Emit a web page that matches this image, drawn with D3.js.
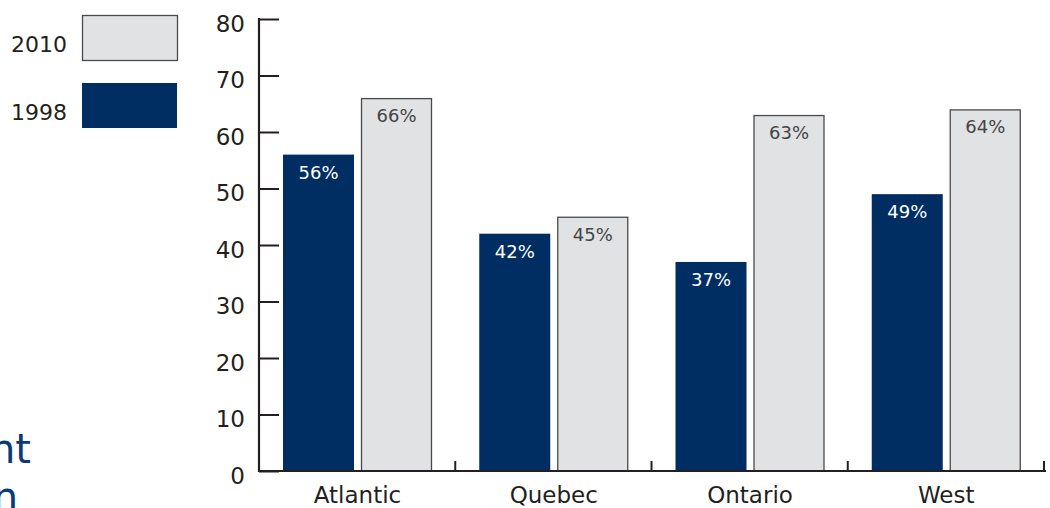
<!DOCTYPE html>
<html>
<head>
<meta charset="utf-8">
<script src="https://cdn.jsdelivr.net/npm/d3@7"></script>
<style>
  body { margin: 0; background: #fff; }
  svg { display: block; font-family: "DejaVu Sans", sans-serif; }
</style>
</head>
<body>
<div id="chart"></div>
<script>
// chart data
const regions = ["Atlantic", "Quebec", "Ontario", "West"];
const series = ["1998", "2010"];
const values1998 = [56, 42, 37, 49];
const values2010 = [66, 45, 63, 64];
const yTicks = [0, 10, 20, 30, 40, 50, 60, 70, 80];

const width = 1050, height = 508;
const dark = "#002d62", light = "#e1e2e4", axisColor = "#231f20";

const svg = d3.select("#chart").append("svg")
    .attr("width", width)
    .attr("height", height);

// scales
let y = d3.scaleLinear().domain([0, 80]).range([471, 19]);
let x0 = d3.scaleBand().domain(regions).range([259, 1044]);
let x1 = d3.scaleBand().domain(series).range([24, 173]).paddingInner(0.0897);

let rows = regions.map((r, i) => ({region: r, "1998": values1998[i], "2010": values2010[i]}));

// bars
let groups = svg.selectAll("g.region")
    .data(rows)
    .enter().append("g")
    .attr("class", "region")
    .attr("transform", d => `translate(${x0(d.region)},0)`);

groups.selectAll("rect")
    .data(d => series.map(s => ({key: s, value: d[s]})))
    .enter().append("rect")
    .attr("x", d => x1(d.key) + (d.key === "2010" ? 0.5 : 0))
    .attr("y", d => y(d.value) + (d.key === "2010" ? 0.5 : 0))
    .attr("width", d => x1.bandwidth() - (d.key === "2010" ? 1 : 0))
    .attr("height", d => y(0) - y(d.value) - (d.key === "2010" ? 0.5 : 0))
    .style("fill", d => d.key === "1998" ? dark : light)
    .style("stroke", d => d.key === "1998" ? "none" : "#4a4a4a")
    .style("stroke-width", 1.3);

groups.selectAll("text.val")
    .data(d => series.map(s => ({key: s, value: d[s]})))
    .enter().append("text")
    .attr("class", "val")
    .attr("x", d => x1(d.key) + x1.bandwidth() / 2)
    .attr("y", d => y(d.value) + 24)
    .style("text-anchor", "middle")
    .style("font-size", "18px")
    .style("fill", d => d.key === "1998" ? "#ffffff" : "#444444")
    .text(d => d.value + "%");

// y axis
let yAxis = d3.axisRight(y).tickValues(yTicks).tickSize(20).tickFormat("");
let yg = svg.append("g")
    .attr("transform", "translate(259,0)")
    .call(yAxis);
yg.select(".domain").remove();
yg.selectAll(".tick line").style("stroke", axisColor).style("stroke-width", 2);
svg.append("line")
    .attr("x1", 259).attr("x2", 259)
    .attr("y1", y(80) - 1).attr("y2", y(0) + 1)
    .style("stroke", axisColor).style("stroke-width", 2.2);

svg.selectAll("text.ytick")
    .data(yTicks)
    .enter().append("text")
    .attr("class", "ytick")
    .attr("x", 245)
    .attr("y", d => y(d) + 12.5)
    .style("text-anchor", "end")
    .style("font-size", "23px")
    .style("fill", axisColor)
    .text(d => d);

// x axis
svg.append("line")
    .attr("x1", 258).attr("x2", 1046)
    .attr("y1", y(0)).attr("y2", y(0))
    .style("stroke", axisColor).style("stroke-width", 2.2);

let bounds = regions.map(r => x0(r) + x0.bandwidth());
svg.selectAll("line.xtick")
    .data(bounds)
    .enter().append("line")
    .attr("class", "xtick")
    .attr("x1", d => d).attr("x2", d => d)
    .attr("y1", y(0)).attr("y2", y(0) - 10)
    .style("stroke", axisColor).style("stroke-width", 2);

svg.selectAll("text.cat")
    .data(regions)
    .enter().append("text")
    .attr("class", "cat")
    .attr("x", d => x0(d) + 24 + 74.5)
    .attr("y", 503)
    .style("text-anchor", "middle")
    .style("font-size", "23px")
    .style("fill", axisColor)
    .text(d => d);

// legend
let legend = [{label: "2010", color: light, y: 15}, {label: "1998", color: dark, y: 83}];
legend.forEach(function(l){
    svg.append("rect")
        .attr("x", l.label === "2010" ? 82.5 : 82)
        .attr("y", l.label === "2010" ? l.y + 0.5 : l.y)
        .attr("width", 95)
        .attr("height", 45)
        .style("fill", l.color)
        .style("stroke", l.label === "2010" ? "#4a4a4a" : "none")
        .style("stroke-width", 1.3);
    svg.append("text")
        .attr("x", 67)
        .attr("y", l.y + 37)
        .style("text-anchor", "end")
        .style("font-size", "22px")
        .style("fill", axisColor)
        .text(l.label);
});

// cut-off title fragments at the left edge
svg.append("text")
    .attr("x", 31).attr("y", 463)
    .style("text-anchor", "end")
    .style("font-size", "40px")
    .style("fill", "#0b3a78")
    .text("nt");
svg.append("text")
    .attr("x", 18).attr("y", 511)
    .style("text-anchor", "end")
    .style("font-size", "40px")
    .style("fill", "#0b3a78")
    .text("n");
</script>
</body>
</html>
